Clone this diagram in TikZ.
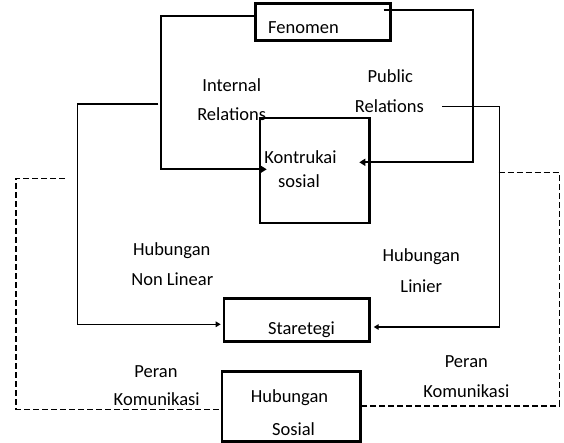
\documentclass[tikz,border=0pt]{standalone}
\usepackage{fontspec}
\setmainfont{Carlito}
\usetikzlibrary{arrows.meta}
\begin{document}
\begin{tikzpicture}[x=1pt,y=-1pt,
  box/.style={draw, line width=2.8pt, inner sep=0pt},
  conn/.style={line width=2pt},
  arr/.style={conn, -{Triangle[length=6pt,width=7pt]}},
  arrthin/.style={line width=1.4pt, -{Triangle[length=5pt,width=5.5pt]}},
  dsh/.style={line width=1.4pt, dash pattern=on 6pt off 3pt},
  lbl/.style={font=\fontsize{18.5}{22}\selectfont, anchor=base, inner sep=0pt}]
\useasboundingbox (0,0) rectangle (564,443);

% boxes
\node[box, minimum width=135.4pt, minimum height=37.4pt] (fen) at (323,22) {};
\node[box, minimum width=109.3pt, minimum height=105pt] (kon) at (314.7,170.5) {};
\node[box, minimum width=145.3pt, minimum height=43pt] (str) at (296.7,320.2) {};
\node[box, minimum width=138.3pt, minimum height=70pt] (hs) at (291.2,406.7) {};

% texts in boxes
\node[lbl] (tfen) at (303.5,33.3) {Fenomen};
\node[lbl] (tkon1) at (300.5,164) {Kontrukai};
\node[lbl] (tkon2) at (299,188) {sosial};
\node[lbl] (tstr) at (301.5,334.3) {Staretegi};
\node[lbl] (ths1) at (289.5,402) {Hubungan};
\node[lbl] (ths2) at (293.5,435) {Sosial};

% labels
\node[lbl] (int1) at (231.7,92) {Internal};
\node[lbl] (int2) at (231.7,121) {Relations};
\node[lbl] (pub1) at (390.3,82.7) {Public};
\node[lbl] (pub2) at (389.3,112.7) {Relations};
\node[lbl] (hnl1) at (171.7,255.3) {Hubungan};
\node[lbl] (hnl2) at (172.3,285.3) {Non Linear};
\node[lbl] (hl1) at (421.3,261.3) {Hubungan};
\node[lbl] (hl2) at (421.3,292) {Linier};
\node[lbl] (pk1) at (156,377) {Peran};
\node[lbl] (pk2) at (156.7,405.3) {Komunikasi};
\node[lbl] (pr1) at (466.3,367) {Peran};
\node[lbl] (pr2) at (466.3,397.7) {Komunikasi};

% connector coordinates
\coordinate (a0) at (fen.west |- 0,15.7);
\coordinate (a1) at (161.3,15.7);
\coordinate (a2) at (161.3,169.3);
\coordinate (a3) at (266.7,169.3);

\coordinate (b0) at (383.7,10);
\coordinate (b1) at (472.7,10);
\coordinate (b2) at (472.7,162.3);
\coordinate (b3) at (359.3,162.3);

\coordinate (c0) at (158.3,104);
\coordinate (c1) at (77.3,104);
\coordinate (c2) at (77.3,324.3);
\coordinate (c3) at (220.7,324.3);

\coordinate (d0) at (442,106.7);
\coordinate (d1) at (499.3,106.7);
\coordinate (d2) at (499.3,327);
\coordinate (d3) at (373.7,327);

\coordinate (e0) at (65,178.3);
\coordinate (e1) at (16,178.3);
\coordinate (e2) at (16,409.3);
\coordinate (e3) at (hs.west |- 0,409.3);

\coordinate (f0) at (498.7,172.7);
\coordinate (f1) at (559.3,172.7);
\coordinate (f2) at (559.3,406);
\coordinate (f3) at (hs.east |- 0,406);

% connectors
\draw[arr] (a0) -- (a1) -- (a2) -- (a3);
\draw[arr] (b0) -- (b1) -- (b2) -- (b3);
\draw[arrthin] (c0) -- (c1) -- (c2) -- (c3);
\draw[arrthin] (d0) -- (d1) -- (d2) -- (d3);
\draw[dsh] (e0) -- (e1) -- (e2) -- (e3);
\draw[dsh] (f0) -- (f1) -- (f2) -- (f3);
\end{tikzpicture}
\end{document}
